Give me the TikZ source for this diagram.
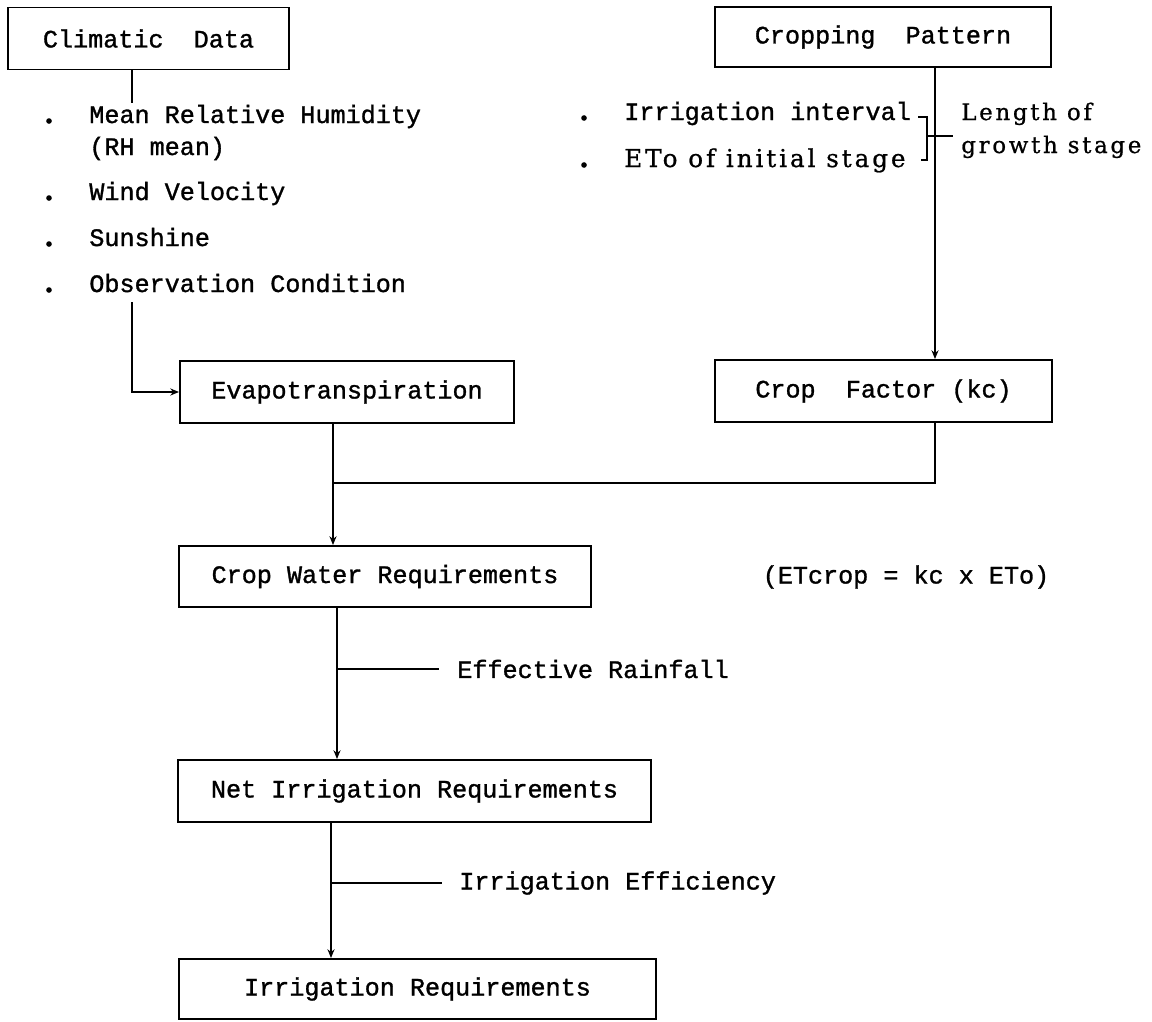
\documentclass[tikz,border=0pt]{standalone}
\usepackage{fontspec}
\setmonofont{Liberation Mono}[FakeBold=1.2]
\newfontfamily\typeserif{DejaVu Serif}[LetterSpace=12, FakeBold=0.8]
\usetikzlibrary{arrows.meta, positioning}

\begin{document}
\begin{tikzpicture}[
        x=0.02cm, y=-0.02cm,
        font=\ttfamily\fontsize{14.3}{17}\selectfont,
        box/.style={draw, line width=1.1pt, minimum height=1.24cm, inner sep=0pt},
        item/.style={anchor=base west, inner sep=0pt},
        serifitem/.style={item, font=\typeserif\fontsize{13}{15}\selectfont},
        wire/.style={line width=1pt},
        arrow/.style={wire, -{Stealth[length=5pt, width=4pt]}}
    ]
    \useasboundingbox (0,0) rectangle (1152,1021);

    % Boxes
    \node [box, minimum width=5.62cm] (climate) at (148.5,38.5) {Climatic\ \ Data};
    \node [box, minimum width=6.72cm, minimum height=1.2cm] (pattern) at (883,37) {Cropping\ \ Pattern};
    \node [box, minimum width=6.68cm] (evapo) at (347,392) {Evapotranspiration};
    \node [box, minimum width=6.74cm] (factor) at (883.5,391) {Crop\ \ Factor (kc)};
    \node [box, minimum width=8.24cm, minimum height=1.22cm] (cwr) at (385,576.5) {Crop Water Requirements};
    \node [box, minimum width=9.46cm] (nir) at (414.5,791) {Net Irrigation Requirements};
    \node [box, minimum width=9.54cm, minimum height=1.2cm] (irr) at (417.5,989) {Irrigation Requirements};

    % Climatic data items
    \node [item] (rh) at (89,123) {Mean Relative Humidity};
    \node [item] (rhmean) at (89,155) {(RH mean)};
    \node [item] (wind) at (89,200) {Wind Velocity};
    \node [item] (sun) at (89,246) {Sunshine};
    \node [item] (obs) at (89,292) {Observation Condition};
    \foreach \y in {123,200,246,292}
        \fill (49,\y-2) circle (1.6pt);

    % Cropping pattern items
    \node [item] (interval) at (624,120) {Irrigation interval};
    \node [serifitem, font=\typeserif\fontsize{14}{16}\selectfont] (eto) at (624,167) {ETo of initial stage};
    \node [serifitem] (length) at (961,120) {Length of};
    \node [serifitem] (growth) at (961,153) {growth stage};
    \foreach \y in {120,167}
        \fill (584,\y-2) circle (1.6pt);

    % Bracket
    \coordinate (brtop) at (927,117);
    \coordinate (brbot) at (927,160);
    \coordinate (brmid) at (927,136);
    \draw [wire] (brtop) ++(-9,0) -- (brtop) -- (brbot) -- ++(-6,0);
    \draw [wire] (brmid) -- ++(26,0);

    % Formula and losses
    \node (etcrop) at (906,577) {(ETcrop = kc x ETo)};
    \node [anchor=west, inner sep=0pt] (rain) at (457,669) {Effective Rainfall};
    \node [anchor=west, inner sep=0pt] (eff) at (459,883) {Irrigation Efficiency};

    % Connectors
    \coordinate (feedtop) at (132,103);
    \coordinate (feedbot) at (132,302);
    \coordinate (patx) at (935,0);
    \coordinate (join) at (333,483);
    \coordinate (colA) at (337,0);
    \coordinate (colB) at (331,0);

    \draw [wire] (climate.south -| feedtop) -- (feedtop);
    \draw [arrow] (feedbot) |- (evapo.west);
    \draw [arrow] (pattern.south -| patx) -- (factor.north -| patx);
    \draw [arrow] (evapo.south -| join) -- (cwr.north -| join);
    \draw [wire] (factor.south -| patx) |- (join);
    \draw [arrow] (cwr.south -| colA) -- (nir.north -| colA);
    \draw [wire] (colA |- rain.west) -- ++(102,0);
    \draw [arrow] (nir.south -| colB) -- (irr.north -| colB);
    \draw [wire] (colB |- eff.west) -- ++(111,0);

\end{tikzpicture}
\end{document}
